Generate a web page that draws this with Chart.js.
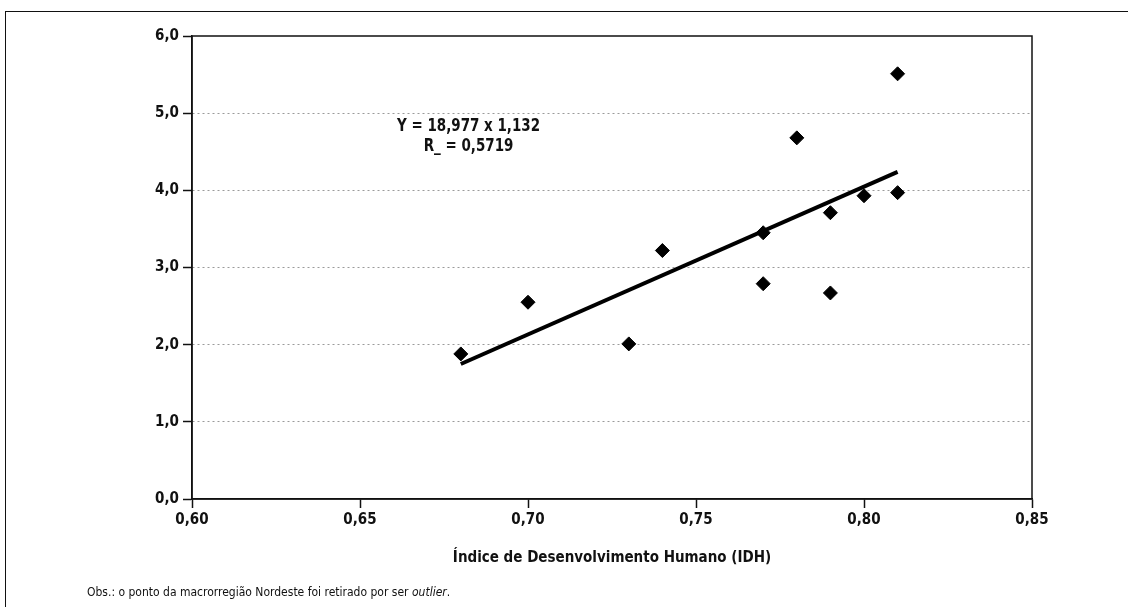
<!DOCTYPE html>
<html>
<head>
<meta charset="utf-8">
<script src="https://cdn.jsdelivr.net/npm/chart.js"></script>
<style>
  body { margin: 0; background: #fff; }
  #wrap { position: relative; width: 1128px; height: 607px; }
  #frame { position: absolute; left: 5px; top: 11px; right: -2px; bottom: -2px;
           border-left: 1.5px solid #111; border-top: 1.5px solid #111; }
  #note { position: absolute; left: 87px; top: 585px; font: 12px 'DejaVu Sans Condensed', 'Liberation Sans Narrow', sans-serif;
          color: #111; line-height: 15px; white-space: nowrap; }
  canvas { position: absolute; left: 0; top: 0; }
</style>
</head>
<body>
<div id="wrap">
  <div id="frame"></div>
  <canvas id="chart" width="1128" height="607"></canvas>
  <div id="note">Obs.: o ponto da macrorregião Nordeste foi retirado por ser <i>outlier</i>.</div>
</div>
<script>
const FONT = "'DejaVu Sans Condensed', 'Liberation Sans Narrow', sans-serif";

// IDH das macrorregiões e valor no eixo vertical
const idh = [0.68, 0.70, 0.73, 0.74, 0.77, 0.77, 0.78, 0.79, 0.79, 0.80, 0.81, 0.81];
const valores = [1.88, 2.55, 2.01, 3.22, 3.45, 2.79, 4.68, 3.71, 2.67, 3.93, 5.51, 3.97];

// linha de tendência (extremos)
const trendX = [0.68, 0.81];
const trendY = [1.75, 4.24];

const equacao = ["Y = 18,977 x 1,132", "R_ = 0,5719"];
const tituloX = "Índice de Desenvolvimento Humano (IDH)";

const pontos = idh.map((x, i) => ({ x: x, y: valores[i] }));
const tendencia = trendX.map((x, i) => ({ x: x, y: trendY[i] }));

// moldura da área do gráfico + texto da equação
const boxPlugin = {
    id: "box",
    beforeDatasetsDraw(chart) {
        const a = chart.chartArea;
        const ctx = chart.ctx;
        ctx.save();
        ctx.strokeStyle = "#111";
        ctx.lineWidth = 1.5;
        ctx.strokeRect(a.left, a.top, a.right - a.left, a.bottom - a.top);
        ctx.restore();
    },
    afterDatasetsDraw(chart) {
        const ctx = chart.ctx;
        const xs = chart.scales.x, ys = chart.scales.y;
        const cx = xs.getPixelForValue(0.6823);
        ctx.save();
        ctx.fillStyle = "#111";
        ctx.font = "bold 17px " + FONT;
        ctx.textAlign = "center";
        ctx.textBaseline = "middle";
        // texto estreito como no original
        ctx.translate(cx, 0);
        ctx.scale(0.88, 1);
        ctx.fillText(equacao[0], 0, ys.getPixelForValue(4.83));
        ctx.fillText(equacao[1], 0, ys.getPixelForValue(4.57));
        ctx.restore();
    }
};

new Chart(document.getElementById("chart"), {
    type: "scatter",
    data: {
        datasets: [
            {
                label: "tendência",
                data: tendencia,
                showLine: true,
                borderColor: "#000",
                borderWidth: 4,
                pointRadius: 0,
                fill: false
            },
            {
                label: "macrorregiões",
                data: pontos,
                pointStyle: "rectRot",
                pointRadius: 7,
                pointHoverRadius: 7,
                backgroundColor: "#000",
                borderColor: "#000",
                borderWidth: 1
            }
        ]
    },
    options: {
        responsive: false,
        devicePixelRatio: 1,
        animation: false,
        layout: { padding: { left: 0, right: 96, top: 36, bottom: 0 } },
        plugins: {
            legend: { display: false },
            tooltip: { enabled: false }
        },
        scales: {
            x: {
                type: "linear",
                min: 0.6,
                max: 0.85,
                afterFit: (s) => { s.height = 108; },
                ticks: {
                    stepSize: 0.05,
                    color: "#111",
                    padding: 3,
                    font: { family: FONT, size: 15, weight: "bold" },
                    callback: (v) => v.toFixed(2).replace(".", ",")
                },
                grid: {
                    drawOnChartArea: false,
                    tickLength: 9,
                    tickWidth: 1.5,
                    tickColor: "#111"
                },
                border: { color: "#111", width: 1.5 },
                title: {
                    display: true,
                    text: tituloX,
                    color: "#111",
                    font: { family: FONT, size: 15, weight: "bold" },
                    padding: { top: 0, bottom: 40 }
                }
            },
            y: {
                min: 0,
                max: 6,
                afterFit: (s) => { s.width = 192; },
                ticks: {
                    stepSize: 1,
                    color: "#111",
                    padding: 4,
                    font: { family: FONT, size: 15, weight: "bold" },
                    callback: (v) => v.toFixed(1).replace(".", ",")
                },
                grid: {
                    color: (c) => (c.tick && (c.tick.value === 0 || c.tick.value === 6)) ? "rgba(0,0,0,0)" : "#9a9a9a",
                    lineWidth: 1,
                    tickLength: 9,
                    tickWidth: 1.5,
                    tickColor: "#111"
                },
                border: { color: "#111", width: 1.5, dash: [2, 3] }
            }
        }
    },
    plugins: [boxPlugin]
});
</script>
</body>
</html>
